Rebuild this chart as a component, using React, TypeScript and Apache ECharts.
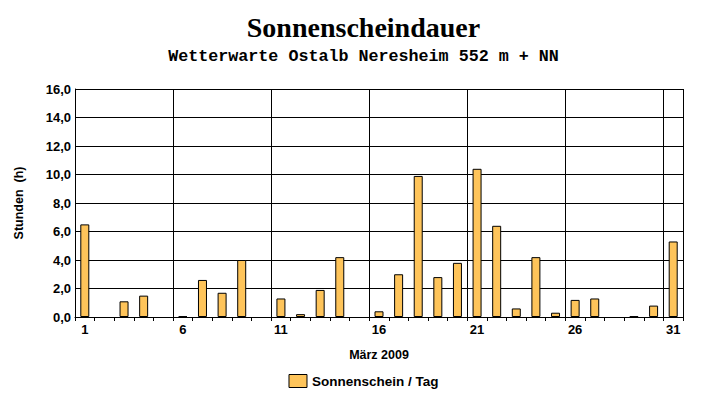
import React, { useEffect, useRef } from "react";
import * as echarts from "echarts";

const days = Array.from({ length: 31 }, (_, i) => String(i + 1));
const sunshine: (number | null)[] = [6.5, null, 1.1, 1.5, null, 0.05, 2.6, 1.7, 4.0, null, 1.3, 0.2, 1.9, 4.2, null, 0.4, 3.0, 9.9, 2.8, 3.8, 10.4, 6.4, 0.6, 4.2, 0.3, 1.2, 1.3, null, 0.05, 0.8, 5.3];
const titleText = "Sonnenscheindauer";
const subtitleText = "Wetterwarte Ostalb Neresheim 552 m + NN";
const seriesName = "Sonnenschein / Tag";

export default function App() {
  const ref = useRef<HTMLDivElement>(null);
  useEffect(() => {
    const chart = echarts.init(ref.current!, null, { renderer: "svg" });
    chart.setOption({
      animation: false,
      backgroundColor: "#fff",
      title: [
        {
          text: titleText,
          left: "center",
          top: 8,
          textStyle: { fontFamily: "Liberation Serif", fontWeight: "bold", fontSize: 28, color: "#000" },
        },
        {
          text: subtitleText,
          left: "center",
          top: 43,
          textStyle: { fontFamily: "Liberation Mono", fontWeight: "bold", fontSize: 16.7, color: "#000" },
        },
      ],
      legend: {
        top: 369,
        left: "center",
        itemWidth: 18,
        itemHeight: 13,
        itemGap: 6,
        textStyle: { fontFamily: "Liberation Sans", fontWeight: "bold", fontSize: 13.5, color: "#000" },
        data: [{ name: seriesName, icon: "rect", itemStyle: { borderColor: "#000", borderWidth: 1 } }],
      },
      grid: { left: 75, right: 44, top: 89, bottom: 87 },
      xAxis: {
        type: "category",
        data: days,
        name: "März 2009",
        nameLocation: "middle",
        nameGap: 31,
        nameTextStyle: { fontFamily: "Liberation Sans", fontWeight: "bold", fontSize: 12.5, color: "#000" },
        axisLine: { lineStyle: { color: "#000", width: 1 } },
        axisTick: { show: true, interval: 0, length: 4, lineStyle: { color: "#000" } },
        axisLabel: { interval: 4, margin: 6, fontFamily: "Liberation Sans", fontWeight: "bold", fontSize: 13, color: "#000" },
        splitLine: {
          show: true,
          interval: (i: number) => i % 5 === 0 && i > 0 && i < 31,
          lineStyle: { color: "#000", width: 1 },
        },
      },
      yAxis: {
        type: "value",
        min: 0,
        max: 16,
        interval: 2,
        name: "Stunden  (h)",
        nameLocation: "middle",
        nameGap: 50,
        nameTextStyle: { fontFamily: "Liberation Sans", fontWeight: "bold", fontSize: 12.5, color: "#000" },
        axisLine: { show: true, lineStyle: { color: "#000", width: 1 } },
        axisTick: { show: false },
        axisLabel: {
          margin: 4,
          fontFamily: "Liberation Sans",
          fontWeight: "bold",
          fontSize: 13,
          color: "#000",
          formatter: (v: number) => v.toFixed(1).replace(".", ","),
        },
        splitLine: { show: true, lineStyle: { color: "#000", width: 1 } },
      },
      series: [
        {
          name: seriesName,
          type: "bar",
          data: sunshine,
          barWidth: 9,
          itemStyle: { color: "#FEC45A", borderColor: "#000", borderWidth: 1 },
        },
      ],
    });
    return () => chart.dispose();
  }, []);
  return <div ref={ref} style={{ width: 727, height: 404, position: "absolute", left: 0, top: 0 }} />;
}
